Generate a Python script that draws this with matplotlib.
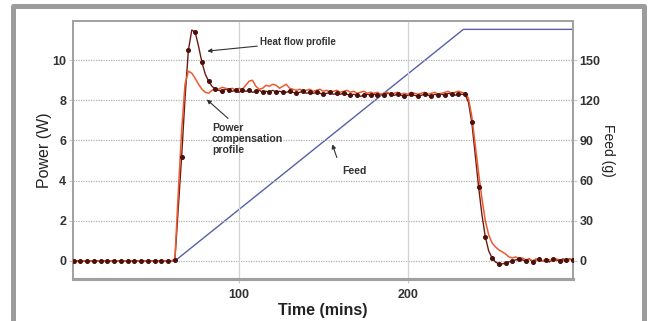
import matplotlib
matplotlib.use("Agg")
import matplotlib.pyplot as plt
from matplotlib.lines import Line2D

plt.rcParams['font.family'] = ['Liberation Sans', 'DejaVu Sans']

# ---------------- data ----------------
time = [2, 4, 6, 8, 10, 12, 14, 16, 18, 20, 22, 24, 26, 28, 30, 32, 34, 36, 38, 40,
        42, 44, 46, 48, 50, 52, 54, 56, 58, 60, 62, 64, 66, 68, 70, 72, 74, 76, 78, 80,
        82, 84, 86, 88, 90, 92, 94, 96, 98, 100, 102, 104, 106, 108, 110, 112, 114, 116, 118, 120,
        122, 124, 126, 128, 130, 132, 134, 136, 138, 140, 142, 144, 146, 148, 150, 152, 154, 156, 158, 160,
        162, 164, 166, 168, 170, 172, 174, 176, 178, 180, 182, 184, 186, 188, 190, 192, 194, 196, 198, 200,
        202, 204, 206, 208, 210, 212, 214, 216, 218, 220, 222, 224, 226, 228, 230, 232, 234, 236, 238, 240,
        242, 244, 246, 248, 250, 252, 254, 256, 258, 260, 262, 264, 266, 268, 270, 272, 274, 276, 278, 280,
        282, 284, 286, 288, 290, 292, 294, 296, 298]

heat_flow = [0.0, 0.0, 0.0, 0.0, 0.0, 0.0, 0.0, 0.0, 0.0, 0.0, 0.0, 0.0, 0.0, 0.0, 0.0, 0.0, 0.0, 0.0, 0.0, 0.0,
             0.0, 0.0, 0.0, 0.0, 0.0, 0.0, 0.0, 0.0, 0.0, 0.0, 0.05, 2.6, 5.2, 8.1, 10.5, 11.5, 11.4, 10.7, 9.9, 9.3,
             8.95, 8.7, 8.55, 8.5, 8.45, 8.55, 8.5, 8.45, 8.5, 8.4, 8.5, 8.45, 8.5, 8.4, 8.45, 8.5, 8.4, 8.45, 8.4, 8.5,
             8.4, 8.45, 8.4, 8.4, 8.45, 8.4, 8.35, 8.4, 8.45, 8.35, 8.4, 8.35, 8.4, 8.35, 8.3, 8.35, 8.4, 8.3, 8.35, 8.3,
             8.35, 8.3, 8.25, 8.3, 8.25, 8.2, 8.25, 8.3, 8.25, 8.3, 8.25, 8.3, 8.25, 8.35, 8.3, 8.25, 8.3, 8.25, 8.2, 8.25,
             8.3, 8.25, 8.2, 8.25, 8.3, 8.25, 8.2, 8.3, 8.25, 8.3, 8.25, 8.35, 8.3, 8.25, 8.3, 8.3, 8.3, 7.9, 6.9, 5.3,
             3.7, 2.3, 1.2, 0.5, 0.15, -0.05, -0.15, -0.15, -0.1, -0.05, 0.0, 0.05, 0.1, 0.05, 0.0, 0.1, -0.05, 0.05, 0.1, 0.0,
             0.05, -0.05, 0.1, 0.05, 0.0, 0.1, 0.05, 0.1, 0.05]

power_comp = [0.0, 0.0, 0.0, 0.0, 0.0, 0.0, 0.0, 0.0, 0.0, 0.0, 0.0, 0.0, 0.0, 0.0, 0.0, 0.0, 0.0, 0.0, 0.0, 0.0,
              0.0, 0.0, 0.0, 0.0, 0.0, 0.0, 0.0, 0.0, 0.0, 0.0, 0.1, 3.4, 6.5, 8.8, 9.45, 9.35, 9.1, 8.8, 8.55, 8.4,
              8.35, 8.5, 8.6, 8.55, 8.65, 8.6, 8.55, 8.6, 8.5, 8.6, 8.55, 8.75, 8.95, 9.0, 8.7, 8.55, 8.6, 8.75, 8.7, 8.8,
              8.75, 8.6, 8.7, 8.8, 8.6, 8.55, 8.5, 8.55, 8.45, 8.5, 8.55, 8.45, 8.5, 8.55, 8.45, 8.5, 8.4, 8.45, 8.5, 8.4,
              8.45, 8.5, 8.4, 8.45, 8.35, 8.4, 8.45, 8.35, 8.4, 8.35, 8.4, 8.3, 8.35, 8.4, 8.3, 8.35, 8.4, 8.3, 8.35, 8.3,
              8.4, 8.35, 8.3, 8.35, 8.4, 8.3, 8.35, 8.4, 8.3, 8.35, 8.4, 8.45, 8.35, 8.4, 8.45, 8.4, 8.35, 8.1, 7.2, 5.8,
              4.4, 3.1, 2.0, 1.3, 0.9, 0.7, 0.55, 0.45, 0.35, 0.2, 0.15, 0.2, 0.1, 0.15, 0.05, 0.1, 0.0, 0.1, 0.05, 0.0,
              0.1, 0.05, 0.0, 0.1, 0.05, 0.0, 0.1, 0.05, 0.1]

feed_time = [2, 62, 233, 298]
feed_vals = [0, 0, 173, 173]

power_ticks = [0, 2, 4, 6, 8, 10]
feed_ticks = [0, 30, 60, 90, 120, 150]
time_ticks = [100, 200]

# ---------------- figure ----------------
W, H = 652, 321
fig = plt.figure(figsize=(W / 100, H / 100), dpi=100)
fig.patch.set_facecolor('white')

# gray frame (left, top, right bars)
frame_kw = dict(color='#9c9c9c', lw=3.6, transform=fig.transFigure, solid_capstyle='projecting')
fx0, fx1, fy0 = 12.5 / W, 644 / W, 1 - 5.8 / H
fig.add_artist(Line2D([fx0, fx0, fx1, fx1], [-0.05, fy0, fy0, -0.05], **frame_kw))

ax = fig.add_axes([73 / W, 1 - 279 / H, (572.7 - 73) / W, (279 - 21) / H])
ax2 = ax.twinx()

ax.set_xlim(1.6, 297.8)
ax.set_ylim(-0.9, 11.95)
ax2.set_ylim(-13.5, 179.25)

# grid
for y in power_ticks:
    ax.axhline(y, color='#b0b0b0', lw=0.9, ls=(0, (1, 1)), zorder=0)
for x in time_ticks:
    ax.axvline(x, color='#d2d2d2', lw=0.9, zorder=0)

# feed on secondary axis (draw under power curves)
ax2.plot(feed_time, feed_vals, color='#5560a8', lw=1.0, zorder=1)
ax.set_zorder(ax2.get_zorder() + 1)
ax.patch.set_visible(False)

ax.plot(time, heat_flow, color='#6e1a14', lw=1.0, zorder=3)
ax.plot(time, power_comp, color='#ec5a30', lw=1.1, zorder=4)
ax.plot(time, heat_flow, ls='none', marker='o', ms=2.6, color='#4a100c',
        markevery=2, zorder=5)

# ticks
ax.set_xticks(time_ticks)
ax.set_yticks(power_ticks)
ax2.set_yticks(feed_ticks)
tick_kw = dict(labelsize=9, colors='#333333', length=3, width=0.8, pad=2)
ax.tick_params(axis='both', **tick_kw)
ax.tick_params(axis='x', pad=4)
ax2.tick_params(axis='y', **tick_kw)
for lab in ax.get_xticklabels() + ax.get_yticklabels() + ax2.get_yticklabels():
    lab.set_fontweight('bold')
for a in (ax, ax2):
    a.tick_params(color='#c8c8c8')

# spines
for a in (ax, ax2):
    for s in ('left', 'right', 'top'):
        a.spines[s].set_color('#a0a0a0')
        a.spines[s].set_linewidth(1.2)
    a.spines['bottom'].set_color('#a0a0a0')
    a.spines['bottom'].set_linewidth(2.2)

# axis labels
ax.set_ylabel('Power (W)', fontsize=11.5, color='#222222', labelpad=0)
ax.set_xlabel('Time (mins)', fontsize=11.5, fontweight='bold', color='#222222', labelpad=2)
ax2.set_ylabel('Feed (g)', fontsize=10, color='#222222', rotation=-90, labelpad=10)

# annotations
arrow = dict(arrowstyle='-|>', color='#333333', lw=0.8, mutation_scale=6, shrinkA=0, shrinkB=0)
ax.annotate('Heat flow profile', xy=(81.2, 10.45), xytext=(112.5, 10.9),
            fontsize=7, fontweight='bold', color='#333333', va='center', ha='left',
            arrowprops=arrow)
ax.annotate('Power\ncompensation\nprofile', xy=(80.9, 8.04), xytext=(84.0, 6.08),
            fontsize=7.6, fontweight='bold', color='#333333', va='center', ha='left',
            linespacing=1.1, arrowprops=None)
ax.annotate('', xy=(80.9, 8.04), xytext=(93.5, 7.1), arrowprops=arrow)
ax.annotate('Feed', xy=(155.3, 5.81), xytext=(161.0, 4.47),
            fontsize=7.6, fontweight='bold', color='#333333', va='center', ha='left')
ax.annotate('', xy=(155.3, 5.81), xytext=(158.0, 5.15), arrowprops=arrow)

fig.savefig('out.png', dpi=100, facecolor='white')
